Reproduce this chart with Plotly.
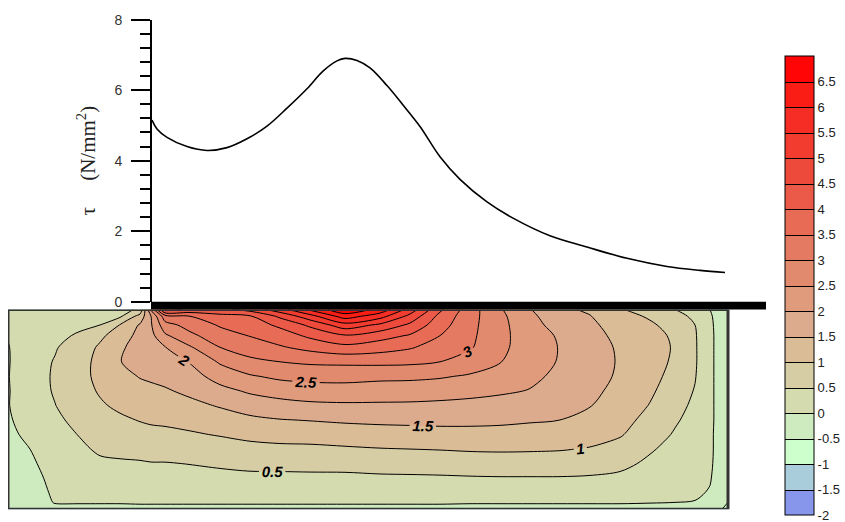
import plotly.graph_objects as go

W, H = 845, 522

# ---- contour field: shear stress under the loaded edge -------------------
# column positions along the block (mm) and row depths below the surface (mm)
x_mm = [0, 11, 23.5, 36, 46, 56, 66, 71.5, 78.5, 91, 106, 121, 136, 151, 168.5,
        186, 201, 216, 231, 246, 261, 276, 291, 306, 321, 333.5, 343.5, 351, 360]
depth_mm = [0, 3.5, 8, 13.5, 19.5, 27, 34.5, 42, 49.5, 57, 64.5, 72, 79.5, 87,
            94.5, 99.5, 103]

# tau (N/mm2), one row per depth, one value per column
tau_field = [
    [0.05, 0.10, 0.15, 0.20, 0.25, 0.30, 0.60, 2.60, 4.70, 4.40, 4.35, 4.70, 5.30, 6.10, 6.90,
     6.35, 5.30, 4.10, 3.22, 2.55, 2.02, 1.60, 1.42, 1.03, 0.82, 0.50, 0.25, 0.00, -0.20],
    [0.08, 0.12, 0.20, 0.27, 0.35, 0.42, 1.20, 2.00, 3.30, 3.50, 3.85, 3.95, 4.60, 5.30, 6.25,
     5.70, 4.85, 3.85, 3.18, 2.62, 2.10, 1.72, 1.52, 1.15, 0.95, 0.70, 0.38, 0.03, -0.20],
    [0.05, 0.15, 0.25, 0.38, 0.50, 1.02, 1.55, 1.95, 2.80, 3.20, 3.55, 3.75, 4.10, 4.60, 5.30,
     4.90, 4.40, 3.70, 3.14, 2.65, 2.16, 1.82, 1.60, 1.28, 1.06, 0.85, 0.50, 0.05, -0.22],
    [0.02, 0.20, 0.35, 0.58, 0.90, 1.25, 1.65, 1.85, 2.42, 2.88, 3.30, 3.52, 3.75, 4.10, 4.45,
     4.20, 3.95, 3.50, 3.10, 2.66, 2.20, 1.95, 1.66, 1.38, 1.15, 0.93, 0.55, 0.06, -0.22],
    [-0.02, 0.25, 0.46, 0.75, 1.07, 1.43, 1.68, 1.75, 1.98, 2.45, 3.00, 3.25, 3.45, 3.65, 3.86,
     3.72, 3.55, 3.28, 3.05, 2.63, 2.22, 1.98, 1.70, 1.44, 1.18, 0.96, 0.56, 0.06, -0.22],
    [-0.03, 0.28, 0.53, 0.85, 1.12, 1.49, 1.62, 1.65, 1.80, 2.03, 2.56, 2.88, 3.00, 3.08, 3.10,
     3.12, 3.10, 3.00, 2.80, 2.52, 2.18, 1.97, 1.70, 1.46, 1.18, 0.93, 0.56, 0.06, -0.22],
    [-0.02, 0.30, 0.55, 0.88, 1.10, 1.38, 1.52, 1.55, 1.64, 1.80, 2.20, 2.45, 2.60, 2.65, 2.67,
     2.62, 2.60, 2.55, 2.44, 2.33, 2.10, 1.90, 1.67, 1.44, 1.14, 0.86, 0.53, 0.06, -0.22],
    [-0.03, 0.28, 0.54, 0.85, 1.04, 1.22, 1.38, 1.43, 1.45, 1.60, 1.85, 2.07, 2.20, 2.28, 2.29,
     2.25, 2.25, 2.20, 2.14, 2.07, 1.98, 1.80, 1.60, 1.38, 1.07, 0.77, 0.47, 0.06, -0.22],
    [-0.02, 0.24, 0.49, 0.75, 0.95, 1.08, 1.22, 1.26, 1.28, 1.38, 1.54, 1.72, 1.83, 1.90, 1.93,
     1.93, 1.92, 1.90, 1.87, 1.82, 1.78, 1.66, 1.52, 1.28, 0.98, 0.67, 0.40, 0.06, -0.22],
    [-0.05, 0.18, 0.42, 0.62, 0.82, 0.93, 1.02, 1.06, 1.08, 1.15, 1.28, 1.40, 1.48, 1.52, 1.57,
     1.60, 1.62, 1.63, 1.63, 1.60, 1.55, 1.50, 1.35, 1.16, 0.86, 0.56, 0.33, 0.06, -0.22],
    [-0.10, 0.10, 0.35, 0.52, 0.70, 0.76, 0.85, 0.88, 0.90, 0.95, 1.03, 1.12, 1.18, 1.20, 1.25,
     1.29, 1.30, 1.33, 1.33, 1.33, 1.30, 1.28, 1.18, 1.04, 0.74, 0.45, 0.26, 0.05, -0.22],
    [-0.15, 0.00, 0.28, 0.43, 0.56, 0.60, 0.64, 0.67, 0.68, 0.72, 0.79, 0.86, 0.89, 0.90, 0.94,
     0.98, 1.00, 1.02, 1.05, 1.06, 1.05, 1.03, 0.97, 0.84, 0.55, 0.35, 0.20, 0.05, -0.22],
    [-0.18, -0.08, 0.20, 0.35, 0.43, 0.45, 0.46, 0.48, 0.48, 0.51, 0.56, 0.61, 0.62, 0.64, 0.65,
     0.70, 0.71, 0.73, 0.75, 0.77, 0.77, 0.76, 0.72, 0.62, 0.41, 0.26, 0.15, 0.04, -0.22],
    [-0.20, -0.12, 0.10, 0.26, 0.30, 0.30, 0.32, 0.33, 0.34, 0.36, 0.38, 0.40, 0.40, 0.40, 0.40,
     0.42, 0.43, 0.44, 0.46, 0.47, 0.47, 0.47, 0.45, 0.40, 0.27, 0.17, 0.10, 0.02, -0.25],
    [-0.18, -0.12, 0.04, 0.13, 0.14, 0.14, 0.15, 0.16, 0.16, 0.17, 0.17, 0.18, 0.18, 0.18, 0.18,
     0.18, 0.19, 0.19, 0.20, 0.20, 0.20, 0.20, 0.20, 0.18, 0.13, 0.08, 0.04, -0.02, -0.35],
    [-0.15, -0.10, 0.01, 0.02, 0.02, 0.02, 0.03, 0.03, 0.03, 0.03, 0.03, 0.03, 0.03, 0.03, 0.03,
     0.03, 0.03, 0.03, 0.02, 0.02, 0.02, 0.02, 0.02, 0.02, 0.01, 0.00, -0.01, -0.10, -0.50],
    [-0.20, -0.10, -0.05, -0.08, -0.08, -0.08, -0.08, -0.08, -0.08, -0.08, -0.08, -0.08, -0.08,
     -0.08, -0.08, -0.08, -0.08, -0.08, -0.08, -0.08, -0.08, -0.08, -0.08, -0.08, -0.08, -0.08,
     -0.08, -0.30, -0.60],
]

# ---- surface shear stress along the loaded length --------------------------
x_tau = [72, 74.5, 79.5, 89.5, 99.5, 109.5, 119.5, 129.5, 139.5, 149.5, 157.5, 164.5,
         168.5, 174.5, 181, 189.5, 197.5, 206, 216, 226, 239.5, 252.5, 271, 289.5,
         309.5, 329.5, 346, 358.5]
tau_surface = [5.15, 4.90, 4.66, 4.40, 4.29, 4.37, 4.62, 4.98, 5.49, 6.04, 6.54, 6.83,
               6.90, 6.84, 6.63, 6.13, 5.58, 4.97, 4.11, 3.47, 2.83, 2.37, 1.87, 1.55,
               1.23, 1.00, 0.89, 0.83]

# loaded strip (mm)
load_span = [71.5, 379.0]

# ---- contour levels and legend ---------------------------------------------
band_edges = [-2, -1.5, -1, -0.5, 0, 0.5, 1, 1.5, 2, 2.5, 3, 3.5, 4, 4.5, 5, 5.5, 6, 6.5, 7]
band_colors = [
    "#8796EB", "#AACDDC", "#CCFFCC", "#CDEBBE", "#D4DCAF", "#D7CDA5",
    "#DABC96", "#DCAA8C", "#E09B7D", "#E28A6E", "#E57A62", "#E86B56",
    "#EB5A48", "#EE4A3B", "#F13C2F", "#F52D24", "#F91D16", "#FF0505",
]
colorbar_ticks = [-2, -1.5, -1, -0.5, 0, 0.5, 1, 1.5, 2, 2.5, 3, 3.5, 4, 4.5, 5, 5.5, 6, 6.5]
labelled_levels = [0.5, 1, 1.5, 2, 2.5, 3]
y_ticks = [0, 2, 4, 6, 8]

step = band_edges[1] - band_edges[0]
n_bands = len(band_colors)
colorscale = [[k / (n_bands - 1), c] for k, c in enumerate(band_colors)]

# ---- layout geometry (pixels in the 845 x 522 page) -------------------------
x_px0, px_per_mm = 8, 2.0
x_range = [0, 380]
x_dom = [x_px0 / W, (x_px0 + (x_range[1] - x_range[0]) * px_per_mm) / W]
field_top_px = 311
field_dom = [1 - (field_top_px + depth_mm[-1] * px_per_mm) / H, 1 - field_top_px / H]
top_dom = [1 - 303 / H, 1 - 12 / H]
yaxis2_pos = (x_px0 + (load_span[0] - x_range[0]) * px_per_mm) / W
cbar_top_px, cbar_bot_px, cbar_inset = 56, 517, 6

smooth = 0.9
common = dict(x=x_mm, y=depth_mm, z=tau_field, autocontour=False,
              hoverinfo="skip", xaxis="x", yaxis="y")
fill_contours = dict(start=band_edges[1], end=band_edges[-2], size=step, coloring="fill")

fig = go.Figure()

# filled field with level lines (supplies the colour legend)
fig.add_trace(go.Contour(
    **common,
    contours=dict(**fill_contours, showlines=True),
    colorscale=colorscale, zmin=band_edges[0], zmax=band_edges[-1],
    line=dict(color="black", width=1, smoothing=smooth),
    showscale=True,
    colorbar=dict(
        x=785 / W, xanchor="left", xref="paper",
        y=1 - (cbar_bot_px + cbar_inset) / H, yanchor="bottom", yref="paper",
        len=(cbar_bot_px - cbar_top_px + 2 * cbar_inset) / H, lenmode="fraction",
        thickness=29, thicknessmode="pixels",
        outlinewidth=1, outlinecolor="black",
        xpad=0, ypad=0,
        tickvals=colorbar_ticks, ticktext=[f"{v:g}" for v in colorbar_ticks],
        ticks="", ticklabelposition="outside", ticklabeloverflow="allow",
        tickfont=dict(family="Liberation Sans", size=13, color="#222"),
    ),
))

# same field without lines on top, so labels sit on clean colour
fig.add_trace(go.Contour(
    **common,
    contours=dict(**fill_contours, showlines=False),
    colorscale=colorscale, zmin=band_edges[0], zmax=band_edges[-1],
    line=dict(width=0, smoothing=smooth),
    showscale=False,
))

# unlabelled level lines (below and above the labelled set)
for lo, hi in [(band_edges[1], 0.0), (labelled_levels[-1] + step, band_edges[-2])]:
    fig.add_trace(go.Contour(
        **common,
        contours=dict(start=lo, end=hi, size=step, coloring="none"),
        line=dict(color="black", width=1, smoothing=smooth),
        showscale=False,
    ))

# labelled level lines
fig.add_trace(go.Contour(
    **common,
    contours=dict(start=labelled_levels[0], end=labelled_levels[-1], size=step,
                  coloring="none", showlabels=True,
                  labelfont=dict(family="Liberation Sans", size=15, color="black",
                                 weight="bold", style="italic")),
    line=dict(color="black", width=1, smoothing=smooth),
    showscale=False,
))

# surface shear stress curve
fig.add_trace(go.Scatter(
    x=x_tau, y=tau_surface, mode="lines", xaxis="x", yaxis="y2",
    line=dict(color="black", width=1.6, shape="spline", smoothing=1.0),
    hoverinfo="skip", showlegend=False,
))

fig.update_layout(
    width=W, height=H,
    margin=dict(l=0, r=0, t=0, b=0),
    paper_bgcolor="white", plot_bgcolor="white",
    showlegend=False,
    xaxis=dict(domain=x_dom, range=x_range, visible=False, fixedrange=True),
    yaxis=dict(domain=field_dom, range=[depth_mm[-1], depth_mm[0]], visible=False,
               fixedrange=True),
    yaxis2=dict(
        domain=top_dom, range=[y_ticks[0], y_ticks[-1]], anchor="free", position=yaxis2_pos,
        tickvals=y_ticks, ticks="outside", ticklen=19, tickwidth=2, tickcolor="black",
        minor=dict(dtick=0.4, tick0=0, ticks="outside", ticklen=10, tickwidth=2,
                   tickcolor="black"),
        showline=True, linewidth=2, linecolor="black",
        showgrid=False, zeroline=False, ticklabelstandoff=6,
        tickfont=dict(family="Liberation Sans", size=14, color="#333"),
        title=dict(text="\u03c4\u00a0\u00a0\u00a0\u00a0\u00a0(N/mm<sup>2</sup>)", standoff=12,
                   font=dict(family="Liberation Serif", size=21, color="#222")),
        fixedrange=True,
    ),
    shapes=[
        # loaded strip on top of the block
        dict(type="rect", xref="x", yref="paper",
             x0=load_span[0], x1=load_span[1], y0=field_dom[1], y1=top_dom[0],
             fillcolor="black", line=dict(width=0), layer="above"),
        # block outline
        dict(type="rect", xref="x", yref="y",
             x0=x_mm[0], x1=x_mm[-1], y0=depth_mm[0], y1=depth_mm[-1],
             line=dict(color="#333", width=3), layer="above"),
    ],
)

fig.write_html("out.html", config={"displayModeBar": False, "staticPlot": True})
